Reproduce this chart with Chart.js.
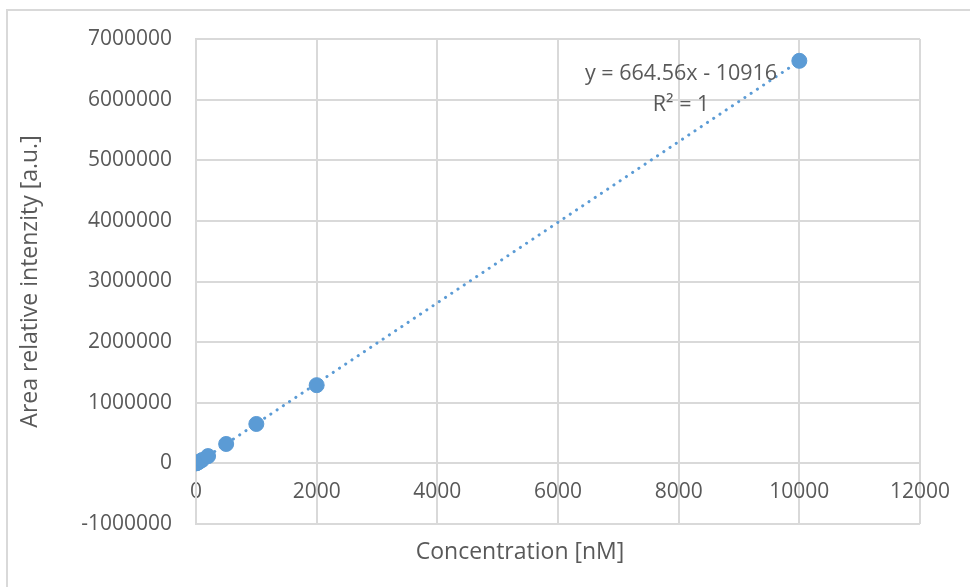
<!DOCTYPE html>
<html><head><meta charset="utf-8">
<script src="https://cdn.jsdelivr.net/npm/chart.js@4"></script>
<style>html,body{margin:0;padding:0;background:#fff}#wrap{width:970px;height:587px;position:relative}</style>
</head><body><div id="wrap"><canvas id="c" width="970" height="587"></canvas></div>
<script>
// ---- data ----
const concentrations = [0, 10, 25, 50, 100, 200, 500, 1000, 2000, 10000];
const intensities = [0, 4000, 12000, 25000, 55000, 120000, 320000, 650000, 1290000, 6640000];
const trendSlope = 664.56;
const trendIntercept = -10916;
const trendRange = [0, 10000];
const equationLines = ['y = 664.56x - 10916', 'R² = 1'];
const xTickValues = [0, 2000, 4000, 6000, 8000, 10000, 12000];
const yTickValues = [-1000000, 0, 1000000, 2000000, 3000000, 4000000, 5000000, 6000000, 7000000];
const xTitle = 'Concentration [nM]';
const yTitle = 'Area relative intenzity [a.u.]';

const TXT = '#595959', GRID = '#d9d9d9', BLUE = '#5B9BD5';
const FONT = "'Open Sans', 'Liberation Sans', sans-serif";
Chart.defaults.font.family = FONT;

const points = concentrations.map((c, i) => ({x: c, y: intensities[i]}));
const trend = trendRange.map(x => ({x, y: trendSlope * x + trendIntercept}));

const decor = {
  id: 'decor',
  beforeDraw(chart) {
    const ctx = chart.ctx;
    ctx.save();
    ctx.fillStyle = '#fff';
    ctx.fillRect(0, 0, chart.width, chart.height);
    ctx.strokeStyle = GRID; ctx.lineWidth = 2;
    ctx.beginPath();
    ctx.moveTo(chart.width + 5, 10); ctx.lineTo(7, 10); ctx.lineTo(7, chart.height + 5);
    ctx.stroke();
    ctx.restore();
  },
  afterDraw(chart) {
    const ctx = chart.ctx;
    const xs = chart.scales.x, ys = chart.scales.y;
    ctx.save();
    ctx.fillStyle = TXT;
    ctx.font = '23px ' + FONT;
    ctx.textAlign = 'center'; ctx.textBaseline = 'middle';
    ctx.fillText(xTitle, 520, 552);
    const ex = xs.getPixelForValue(8040), ey = ys.getPixelForValue(6430000);
    ctx.font = '21.5px ' + FONT;
    ctx.fillText(equationLines[0], ex, ey);
    ctx.fillText(equationLines[1], ex, ey + 31);
    ctx.restore();
  }
};

new Chart(document.getElementById('c'), {
  type: 'scatter',
  data: {
    datasets: [
      {data: points, backgroundColor: BLUE, borderColor: BLUE, pointRadius: 7.5, pointHoverRadius: 7.5, order: 0},
      {type: 'line', data: trend, showLine: true, borderColor: BLUE, borderWidth: 3, borderDash: [0.1, 7.4], borderCapStyle: 'round', pointRadius: 0, fill: false, order: 1}
    ]
  },
  options: {
    responsive: false, animation: false,
    layout: {padding: {left: 7, right: 50, top: 39, bottom: 63}},
    plugins: {legend: {display: false}, tooltip: {enabled: false}},
    scales: {
      x: {
        type: 'linear', position: {y: 0},
        min: xTickValues[0], max: xTickValues[xTickValues.length - 1],
        afterBuildTicks(s) { s.ticks = xTickValues.map(v => ({value: v})); },
        ticks: {color: TXT, font: {size: 21}, padding: 16, maxRotation: 0, autoSkip: false, callback: v => String(v)},
        grid: {color: GRID, lineWidth: 2, drawTicks: false},
        border: {color: GRID, width: 2},
        afterFit(s) { s.height = 0; }
      },
      y: {
        type: 'linear', position: 'left',
        min: yTickValues[0], max: yTickValues[yTickValues.length - 1],
        afterBuildTicks(s) { s.ticks = yTickValues.map(v => ({value: v})); },
        ticks: {color: TXT, font: {size: 21}, padding: 24, autoSkip: false, callback: v => String(v)},
        grid: {color: GRID, lineWidth: 2, drawTicks: false},
        border: {color: GRID, width: 2},
        title: {display: true, text: yTitle, color: TXT, font: {size: 23}, padding: {top: 10, bottom: 0}},
        afterFit(s) { s.width = 189; }
      }
    }
  },
  plugins: [decor]
});
</script></body></html>
